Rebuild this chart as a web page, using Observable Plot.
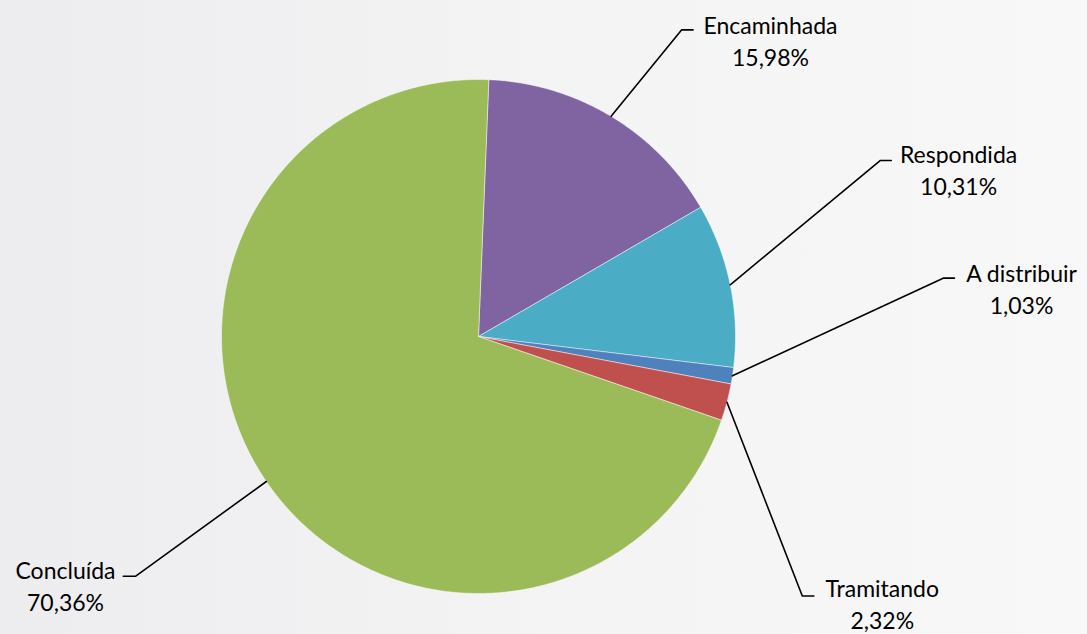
<!DOCTYPE html>
<html>
<head>
<meta charset="utf-8">
<script src="https://cdn.jsdelivr.net/npm/d3@7"></script>
<script src="https://cdn.jsdelivr.net/npm/@observablehq/plot@0.6"></script>
<style>
  html, body { margin: 0; padding: 0; }
  body { width: 1087px; height: 634px; overflow: hidden;
         background: linear-gradient(to right, #ededef 0%, #f4f4f5 55%, #f8f8f9 100%); }
  #chart svg { display: block; background: transparent; }
</style>
</head>
<body>
<div id="chart"></div>
<script>
// ---- data ----
const categories = ["Encaminhada", "Respondida", "A distribuir", "Tramitando", "Concluída"];
const values = [15.98, 10.31, 1.03, 2.32, 70.36];
const colors = ["#8064a2", "#4bacc6", "#4f81bd", "#c0504d", "#9bbb59"];

// ---- layout (unit-circle coordinates) ----
const startAngle = 2.3; // degrees clockwise from 12 o'clock
const labelPos = [[1.136, 1.156], [1.868, 0.653], [2.113, 0.191], [1.571, -1.036], [-1.607, -0.966]];
const elbowPos = [[0.790, 1.193], [1.564, 0.685], [1.808, 0.227], [1.260, -1.010], [-1.335, -0.933]];
const endPos   = [[0.835, 1.193], [1.606, 0.685], [1.852, 0.227], [1.305, -1.010], [-1.382, -0.933]];

const total = d3.sum(values);
const fmt = v => v.toFixed(2).replace(".", ",") + "%";
const rad = a => a * Math.PI / 180;

let acc = startAngle;
const slices = categories.map((name, i) => {
  const a0 = acc, a1 = acc + values[i] / total * 360;
  acc = a1;
  return {name, value: values[i], color: colors[i], a0, a1, mid: (a0 + a1) / 2, i};
});

const polyPts = [];
for (const s of slices) {
  polyPts.push({name: s.name, color: s.color, x: 0, y: 0});
  const n = Math.max(2, Math.ceil((s.a1 - s.a0) / 0.4));
  for (let k = 0; k <= n; k++) {
    const a = rad(s.a0 + (s.a1 - s.a0) * k / n);
    polyPts.push({name: s.name, color: s.color, x: Math.sin(a), y: Math.cos(a)});
  }
  polyPts.push({name: s.name, color: s.color, x: 0, y: 0});
}

const leaderPts = [];
for (const s of slices) {
  const a = rad(s.mid);
  leaderPts.push({name: s.name, x: Math.sin(a), y: Math.cos(a)});
  leaderPts.push({name: s.name, x: elbowPos[s.i][0], y: elbowPos[s.i][1]});
  leaderPts.push({name: s.name, x: endPos[s.i][0], y: endPos[s.i][1]});
}

const labels = slices.map(s => ({
  x: labelPos[s.i][0], y: labelPos[s.i][1], text: s.name + "\n" + fmt(s.value)
}));

const chart = Plot.plot({
  width: 1087,
  height: 634,
  marginLeft: 221,
  marginRight: 352,
  marginTop: 79,
  marginBottom: 41,
  x: {domain: [-1, 1], axis: null},
  y: {domain: [-1, 1], axis: null},
  style: {background: "transparent", overflow: "visible"},
  marks: [
    Plot.line(polyPts, {x: "x", y: "y", z: "name", fill: "color", stroke: "white", strokeWidth: 0.6, strokeOpacity: 0.8, curve: "linear"}),
    Plot.line(leaderPts, {x: "x", y: "y", z: "name", stroke: "black", strokeWidth: 1.6, curve: "linear"}),
    Plot.text(labels, {x: "x", y: "y", text: "text", fontSize: 23, lineHeight: 1.39, fill: "#000",
      fontFamily: "Lato, 'Open Sans', sans-serif", textAnchor: "middle", lineAnchor: "middle"})
  ]
});
document.getElementById("chart").appendChild(chart);
</script>
</body>
</html>
